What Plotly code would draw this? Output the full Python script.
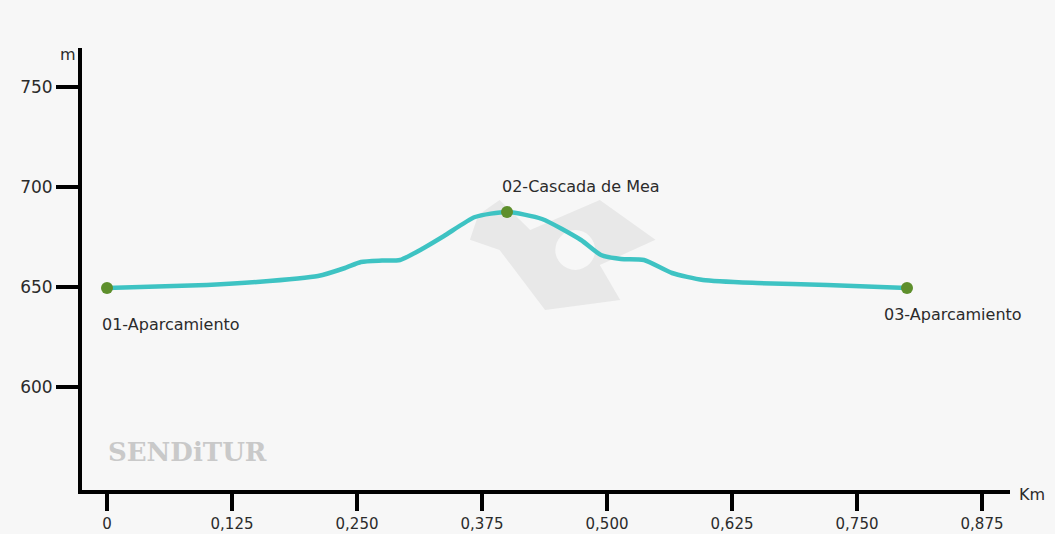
import plotly.graph_objects as go

# Elevation profile (km, m)
profile_km = [0.0, 0.05, 0.10, 0.15, 0.211, 0.238, 0.254, 0.275, 0.293, 0.315, 0.337, 0.368, 0.40,
              0.435, 0.474, 0.494, 0.514, 0.537, 0.565, 0.596, 0.65, 0.72, 0.8]
profile_alt = [649.5, 650.2, 651.0, 652.5, 655.5, 659.5, 662.5, 663.2, 663.5, 669.0, 675.5, 685.0, 687.5,
               684.0, 673.5, 666.0, 664.0, 663.5, 657.0, 653.5, 652.0, 651.0, 649.5]

# Waypoints
waypoint_names = ["01-Aparcamiento", "02-Cascada de Mea", "03-Aparcamiento"]
waypoint_km = [0.0, 0.40, 0.80]
waypoint_alt = [649.5, 687.5, 649.5]

# Axis ticks
x_tickvals = [0, 0.125, 0.25, 0.375, 0.5, 0.625, 0.75, 0.875]
x_ticktext = ["0", "0,125", "0,250", "0,375", "0,500", "0,625", "0,750", "0,875"]
y_tickvals = [600, 650, 700, 750]

FONT = "DejaVu Sans"
TXT = "#2b2b2b"
BG = "#f7f7f7"

fig = go.Figure()

# faint logo watermark (decoration, behind the data)
fig.add_shape(type="path", xref="paper", yref="paper", layer="below",
              path="M 0.418 0.566 L 0.427 0.622 L 0.450 0.656 L 0.483 0.588 L 0.558 0.656 "
                   "L 0.618 0.566 L 0.558 0.509 L 0.580 0.430 L 0.499 0.407 L 0.450 0.543 Z",
              fillcolor="#e8e8e8", line=dict(width=0))
fig.add_shape(type="circle", xref="paper", yref="paper", layer="below",
              x0=0.510, x1=0.553, y0=0.498, y1=0.588,
              fillcolor=BG, line=dict(width=0))

fig.add_trace(go.Scatter(
    x=profile_km, y=profile_alt, mode="lines",
    line=dict(color="#3ec3c3", width=4.5, shape="spline", smoothing=0.6),
    hoverinfo="skip", showlegend=False,
))
fig.add_trace(go.Scatter(
    x=waypoint_km, y=waypoint_alt, mode="markers",
    marker=dict(color="#5e8f2c", size=12, line=dict(width=0)),
    showlegend=False,
))

# waypoint labels
label_pos = [dict(xanchor="left", xshift=-7, yshift=-36),
             dict(xanchor="left", xshift=-7, yshift=26),
             dict(xanchor="left", xshift=-25, yshift=-26)]
for name, xk, ya, p in zip(waypoint_names, waypoint_km, waypoint_alt, label_pos):
    fig.add_annotation(x=xk, y=ya, text=name, showarrow=False,
                       font=dict(family=FONT, size=16, color=TXT),
                       yanchor="middle", **p)

# axis unit labels
fig.add_annotation(xref="x domain", yref="y domain", x=-0.015, y=0.985, text="m",
                   showarrow=False, xanchor="center", yanchor="middle",
                   font=dict(family=FONT, size=16, color=TXT))
fig.add_annotation(xref="x domain", yref="y domain", x=1.008, y=-0.01, text="Km",
                   showarrow=False, xanchor="left", yanchor="middle",
                   font=dict(family=FONT, size=16, color=TXT))

# watermark text
fig.add_annotation(xref="x domain", yref="y domain", x=0.026, y=0.085, text="<b>SENDiTUR</b>",
                   showarrow=False, xanchor="left", yanchor="middle",
                   font=dict(family="DejaVu Serif", size=26, color="#c9c9c9"))

fig.update_layout(
    width=1055, height=534,
    margin=dict(l=82, r=45, t=48, b=44, autoexpand=False),
    paper_bgcolor=BG, plot_bgcolor=BG,
    font=dict(family=FONT, size=16, color=TXT),
    xaxis=dict(range=[-0.025, 0.903], showgrid=False, zeroline=False, automargin=False,
               showline=True, linecolor="black", linewidth=4,
               tickmode="array", tickvals=x_tickvals, ticktext=x_ticktext,
               ticks="outside", ticklen=17, tickwidth=4, tickcolor="black",
               tickfont=dict(family=FONT, size=15, color=TXT)),
    yaxis=dict(range=[548.5, 769.5], showgrid=False, zeroline=False, automargin=False,
               showline=True, linecolor="black", linewidth=4,
               tickmode="array", tickvals=y_tickvals,
               ticks="outside", ticklen=22, tickwidth=4, tickcolor="black",
               tickfont=dict(family=FONT, size=17, color=TXT)),
)

fig.write_html("out.html", config={"displayModeBar": False},
               post_script="document.body.style.margin='0';document.body.style.background='#f7f7f7';")
